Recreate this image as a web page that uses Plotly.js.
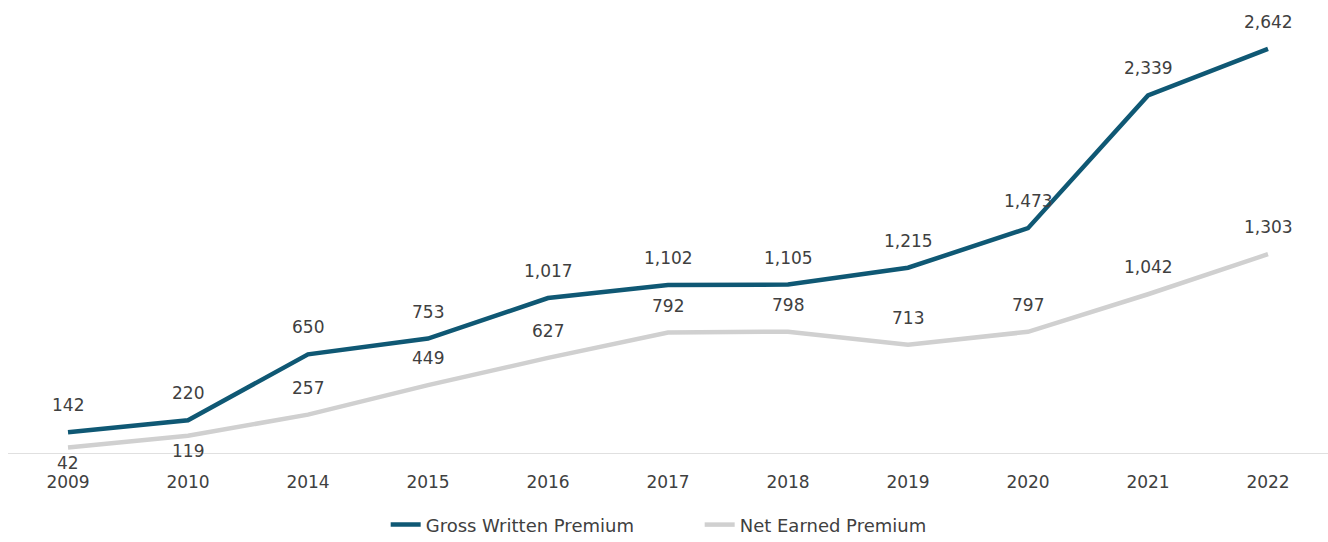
<!DOCTYPE html>
<html>
<head>
<meta charset="utf-8">
<script src="https://cdn.plot.ly/plotly-3.0.1.min.js"></script>
<style>html,body{margin:0;padding:0;background:#fff;}#chart{width:1328px;height:542px;}</style>
</head>
<body>
<div id="chart"></div>
<script>
const years = ['2009','2010','2014','2015','2016','2017','2018','2019','2020','2021','2022'];
const gross = [142, 220, 650, 753, 1017, 1102, 1105, 1215, 1473, 2339, 2642];
const net = [42, 119, 257, 449, 627, 792, 798, 713, 797, 1042, 1303];
const netLabelBelow = [true, true, false, false, false, false, false, false, false, false, false];

const fmt = v => v.toLocaleString('en-US');
const labelFont = {family: '"DejaVu Sans", sans-serif', size: 17, color: '#404040'};
const legendFont = {family: '"DejaVu Sans", sans-serif', size: 18, color: '#404040'};

const annotations = [];
years.forEach((y, i) => {
  annotations.push({x: i, y: gross[i], text: fmt(gross[i]), showarrow: false, yshift: 27, font: labelFont, yanchor: 'middle'});
  annotations.push({x: i, y: net[i], text: fmt(net[i]), showarrow: false, yshift: netLabelBelow[i] ? -15 : 27, font: labelFont, yanchor: 'middle'});
});

const traces = [
  {x: years, y: gross, name: 'Gross Written Premium', mode: 'lines', line: {color: '#0F5874', width: 4.5, shape: 'linear'}},
  {x: years, y: net, name: 'Net Earned Premium', mode: 'lines', line: {color: '#D0D0D0', width: 4.5, shape: 'linear'}}
];

const layout = {
  width: 1328, height: 542,
  margin: {l: 8, r: 0, t: 10, b: 88, autoexpand: false},
  paper_bgcolor: '#fff', plot_bgcolor: '#fff',
  font: labelFont,
  xaxis: {type: 'category', range: [-0.5, 10.5], automargin: false, showgrid: false, zeroline: false, showline: false, ticks: '', tickfont: labelFont, ticklabelstandoff: 16, fixedrange: true},
  yaxis: {range: [0, 2896], automargin: false, showgrid: false, zeroline: false, showticklabels: false, showline: false, fixedrange: true},
  shapes: [{type: 'line', xref: 'x', yref: 'y', x0: -0.5, x1: 10.5, y0: 0, y1: 0, line: {color: '#D6D6D6', width: 1.5}}],
  annotations: annotations,
  showlegend: true,
  legend: {orientation: 'h', x: 0.524, xanchor: 'center', y: -0.118, yanchor: 'top', font: legendFont, entrywidth: 269, entrywidthmode: 'pixels'},
};

Plotly.newPlot('chart', traces, layout, {displayModeBar: false, staticPlot: true});
</script>
</body>
</html>
